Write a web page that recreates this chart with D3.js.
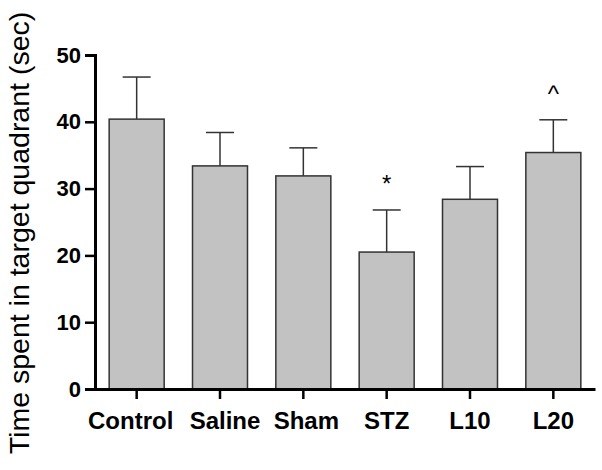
<!DOCTYPE html>
<html>
<head>
<meta charset="utf-8">
<script src="https://cdn.jsdelivr.net/npm/d3@7"></script>
<style>
  html, body { margin: 0; padding: 0; background: #fff; }
  svg { display: block; }
</style>
</head>
<body>
<svg id="chart" width="602" height="470"></svg>
<script>
const categories = ["Control", "Saline", "Sham", "STZ", "L10", "L20"];
const means = [40.4, 33.4, 31.9, 20.5, 28.4, 35.4];
const sems = [6.3, 5.0, 4.2, 6.3, 4.9, 4.9];
const marks = ["", "", "", "*", "", "^"];
const yTicks = [0, 10, 20, 30, 40, 50];
const yTitle = "Time spent in target quadrant (sec)";

const svg = d3.select("#chart");
const x = d3.scaleBand().domain(categories).range([95, 595]).paddingInner(0.34).paddingOuter(0.17);
const y = d3.scaleLinear().domain([0, 50]).range([389, 55]);

const data = categories.map((c, i) => ({ c, m: means[i], s: sems[i], k: marks[i] }));

// error bars (upper only)
const eb = svg.append("g").attr("stroke", "#333").attr("stroke-width", 1.5);
eb.selectAll("line.v").data(data).join("line")
  .attr("x1", d => x(d.c) + x.bandwidth() / 2).attr("x2", d => x(d.c) + x.bandwidth() / 2)
  .attr("y1", d => y(d.m)).attr("y2", d => y(d.m + d.s));
eb.selectAll("line.h").data(data).join("line")
  .attr("x1", d => x(d.c) + x.bandwidth() / 2 - 14).attr("x2", d => x(d.c) + x.bandwidth() / 2 + 14)
  .attr("y1", d => y(d.m + d.s)).attr("y2", d => y(d.m + d.s));

// bars
svg.append("g").selectAll("rect").data(data).join("rect")
  .attr("x", d => x(d.c)).attr("width", x.bandwidth())
  .attr("y", d => y(d.m)).attr("height", d => y(0) - y(d.m))
  .attr("fill", "#c2c2c2").attr("stroke", "#333").attr("stroke-width", 1.5);

// annotations
svg.append("g").selectAll("text").data(data.filter(d => d.k)).join("text")
  .attr("x", d => x(d.c) + x.bandwidth() / 2)
  .attr("y", d => y(d.m + d.s) - 18)
  .attr("text-anchor", "middle")
  .attr("font-family", "Liberation Sans, Arial, sans-serif")
  .attr("font-size", 24)
  .attr("fill", "#000")
  .text(d => d.k);

// y axis
const ya = svg.append("g").attr("transform", "translate(95,0)")
  .call(d3.axisLeft(y).tickValues(yTicks).tickSize(10).tickPadding(4));
ya.select(".domain").attr("stroke", "#000").attr("stroke-width", 3);
ya.selectAll(".tick line").attr("stroke", "#000").attr("stroke-width", 2.5);
ya.selectAll(".tick text").attr("font-family", "Liberation Sans, Arial, sans-serif")
  .attr("font-size", 22).attr("font-weight", "bold").attr("fill", "#000");

// x axis
const labelNudge = { Control: -6, Saline: 5, Sham: 3 };
const xa = svg.append("g").attr("transform", "translate(0,389)")
  .call(d3.axisBottom(x).tickSize(10).tickPadding(13).tickSizeOuter(0));
xa.select(".domain").attr("stroke", "#000").attr("stroke-width", 3);
xa.selectAll(".tick line").attr("stroke", "#000").attr("stroke-width", 2.5);
xa.selectAll(".tick text").attr("font-family", "Liberation Sans, Arial, sans-serif")
  .attr("font-size", 24).attr("font-weight", "bold").attr("fill", "#000")
  .attr("dx", d => labelNudge[d] || 0);

// y title
svg.append("text")
  .attr("transform", "translate(29,233) rotate(-90)")
  .attr("text-anchor", "middle")
  .attr("font-family", "Liberation Sans, Arial, sans-serif")
  .attr("font-size", 28.5)
  .attr("fill", "#000")
  .text(yTitle);
</script>
</body>
</html>
